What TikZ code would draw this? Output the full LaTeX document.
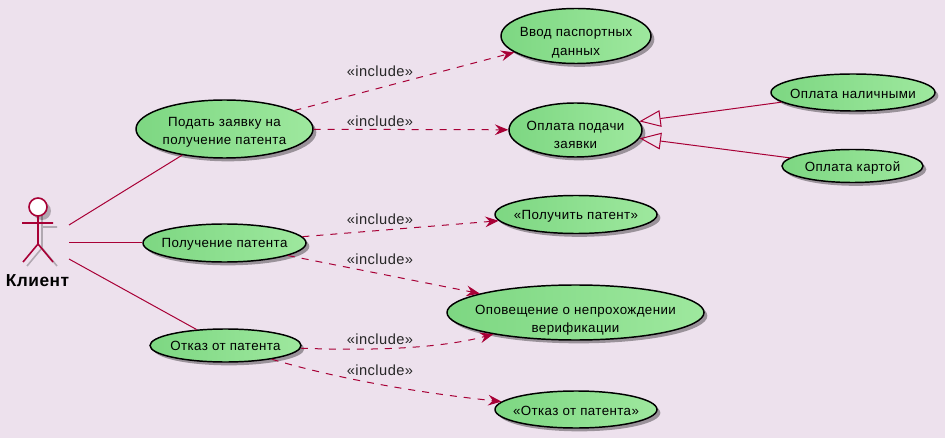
\documentclass[tikz,border=0pt]{standalone}
\usepackage{fontspec}
\setmainfont{Liberation Sans}[LetterSpace=3]
\usetikzlibrary{arrows.meta,shapes.geometric,shadows}
\definecolor{UmlBack}{RGB}{237,225,237}
\definecolor{UmlLine}{RGB}{168,0,54}
\definecolor{UmlGreenA}{RGB}{125,215,130}
\definecolor{UmlGreenB}{RGB}{158,232,158}
\begin{document}
\begin{tikzpicture}[
  x=0.75pt,y=-0.75pt,
  usecase/.style={ellipse,draw=black,line width=1.1pt,inner xsep=-40pt,inner ysep=-12pt,align=center,
                  left color=UmlGreenA,right color=UmlGreenB,
                  font=\fontsize{10pt}{13.7pt}\selectfont,
                  drop shadow={shadow xshift=2.5pt,shadow yshift=-2.5pt,opacity=.35,fill=black}},
  sink/.style={execute at begin node={\rule{0pt}{#1}}},
  assoc/.style={draw=UmlLine,line width=.75pt},
  incl/.style={draw=UmlLine,line width=.75pt,dash pattern=on 5.25pt off 5.25pt,
               -{Stealth[length=10pt,width=8pt,inset=3.5pt]}},
  gener/.style={draw=UmlLine,line width=.75pt,-{Triangle[open,length=16pt,width=12.5pt,fill=none]}},
  inclabel/.style={font=\fontsize{11pt}{12pt}\selectfont,inner sep=0pt,text=black!85},
  stick/.style={draw=UmlLine,line width=1.2pt},
  stickshadow/.style={draw=black,opacity=.25,line width=1.2pt}
]
\useasboundingbox (0,0) rectangle (945,438);
\fill[UmlBack] (0,0) rectangle (945,438);
\node[usecase,sink=25.5pt,minimum width=177*.75pt,minimum height=58*.75pt] (submit) at (224.5,129) {Подать заявку на\\получение патента};
\node[usecase,sink=9.5pt,minimum width=163*.75pt,minimum height=38*.75pt] (receive) at (224.5,243) {Получение патента};
\node[usecase,minimum width=151*.75pt,minimum height=33*.75pt] (refuse) at (225.5,345.5) {Отказ от патента};
\node[usecase,sink=30.8pt,minimum width=150*.75pt,minimum height=55*.75pt] (passport) at (576,36) {Ввод паспортных\\данных};
\node[usecase,sink=28.5pt,minimum width=133*.75pt,minimum height=54*.75pt] (fee) at (575.5,130) {Оплата подачи\\заявки};
\node[usecase,sink=9pt,minimum width=164*.75pt,minimum height=37*.75pt] (cash) at (853,92.5) {Оплата наличными};
\node[usecase,sink=10pt,minimum width=141*.75pt,minimum height=33*.75pt] (card) at (852.5,166) {Оплата картой};
\node[usecase,sink=9.5pt,minimum width=162*.75pt,minimum height=38*.75pt] (getpat) at (576,214.5) {«Получить патент»};
\node[usecase,sink=32.2pt,minimum width=257*.75pt,minimum height=55*.75pt] (notify) at (575.5,312.5) {Оповещение о непрохождении\\верификации};
\node[usecase,sink=9pt,minimum width=162*.75pt,minimum height=37*.75pt] (refpat) at (576,409.5) {«Отказ от патента»};
\draw[stickshadow] (42,227)--(57,227) (42,216)--(42,248)--(27,266) (42,248)--(57,266);
\fill[black,opacity=.25] (42,211) circle[radius=9];
\draw[stick,fill=white] (38,207) circle[radius=9];
\draw[stick] (38,216)--(38,244) (22,223)--(53,223) (23,262)--(38,244)--(53,262);
\node[font=\fontsize{13pt}{14pt}\selectfont\bfseries,inner sep=0pt] (client) at (37.5,281) {Клиент};
\coordinate (clientA) at (69,225);
\coordinate (clientB) at (69,243);
\coordinate (clientC) at (69,259);
\draw[assoc] (clientA)--(submit);
\draw[assoc] (clientB)--(receive);
\draw[assoc] (clientC)--(refuse);
\draw[incl] (submit)--(passport);
\draw[incl] (submit)--(fee);
\draw[incl] (receive)--(getpat);
\draw[incl] (receive)--(notify);
\draw[incl] (refuse) .. controls (350,350) and (430,351) .. (notify);
\draw[incl] (refuse) .. controls (345,381) and (430,394) .. (refpat);
\draw[gener] (cash)--(fee);
\draw[gener] (card)--(fee);
\node[inclabel] (incA) at (380,71) {«include»};
\node[inclabel] (incB) at (380,121) {«include»};
\node[inclabel] (incC) at (380,219) {«include»};
\node[inclabel] (incD) at (380,259) {«include»};
\node[inclabel] (incE) at (380,339) {«include»};
\node[inclabel] (incF) at (380,370) {«include»};
\end{tikzpicture}
\end{document}
